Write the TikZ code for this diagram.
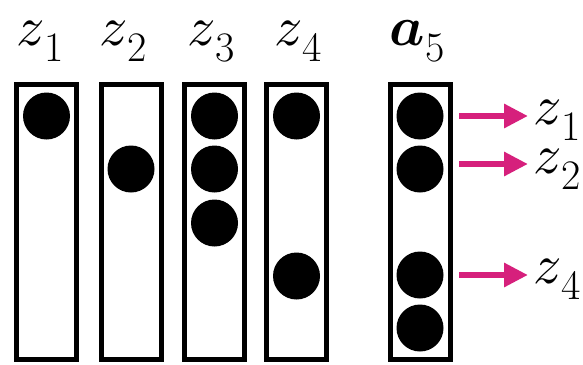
\documentclass[tikz,border=0pt]{standalone}
\usepackage{bm}
\usetikzlibrary{positioning, arrows.meta}
\DeclareFontShape{OML}{cmm}{m}{it}{<->cmmi10}{}
\DeclareFontShape{OML}{cmm}{b}{it}{<->cmmib10}{}

\definecolor{arrowpink}{RGB}{214,32,124}
\newcommand{\symlabel}[2]{\fontsize{56}{56}\selectfont$#1$\raisebox{-16pt}{\fontsize{42}{42}\selectfont #2}}

\begin{document}
\begin{tikzpicture}[x=1pt, y=-1pt,
  slot/.style={draw, line width=5pt, minimum width=60pt, minimum height=275pt, inner sep=0pt},
  dot/.style={circle, fill=black, minimum size=47pt, inner sep=0pt},
  toplabel/.style={anchor=base, inner sep=0pt},
  sidelabel/.style={anchor=base west, inner xsep=5pt, inner ysep=0pt},
  pinkarrow/.style={arrowpink, line width=6pt, -{Triangle[length=24pt, width=23pt]}}]
\useasboundingbox (0,0) rectangle (583,364);

% Columns z1 .. z4
\node[slot] (b1) at (46.5,222) {};
\node[slot] (b2) at (131,222) {};
\node[slot] (b3) at (214.5,222) {};
\node[slot] (b4) at (296.5,222) {};
\node[toplabel] (t1) at (40,45) {\symlabel{z}{1}};
\node[toplabel] (t2) at (123,45) {\symlabel{z}{2}};
\node[toplabel] (t3) at (211,45) {\symlabel{z}{3}};
\node[toplabel] (t4) at (298,45) {\symlabel{z}{4}};

\node[dot] (d1a) at (46.5,116) {};
\node[dot] (d2a) at (131,169) {};
\node[dot] (d3a) at (214.5,116) {};
\node[dot] (d3b) at (214.5,169) {};
\node[dot] (d3c) at (214.5,223) {};
\node[dot] (d4a) at (296.5,116) {};
\node[dot] (d4b) at (296.5,276) {};

% Column a5
\node[slot] (b5) at (420,222) {};
\node[toplabel] (t5) at (417,45) {\symlabel{\bm{a}}{5}};
\node[dot] (d5a) at (420,116) {};
\node[dot] (d5b) at (420,169) {};
\node[dot] (d5c) at (420,275) {};
\node[dot] (d5d) at (420,328) {};

% Arrows to the matching z
\coordinate (s1) at (459,116);
\coordinate (s2) at (459,164);
\coordinate (s3) at (459,275);
\node[sidelabel] (r1) at (528,124) {\symlabel{z}{1}};
\node[sidelabel] (r2) at (528,173) {\symlabel{z}{2}};
\node[sidelabel] (r4) at (528,283) {\symlabel{z}{4}};
\draw[pinkarrow] (s1) -- (s1 -| r1.west);
\draw[pinkarrow] (s2) -- (s2 -| r2.west);
\draw[pinkarrow] (s3) -- (s3 -| r4.west);
\end{tikzpicture}
\end{document}
